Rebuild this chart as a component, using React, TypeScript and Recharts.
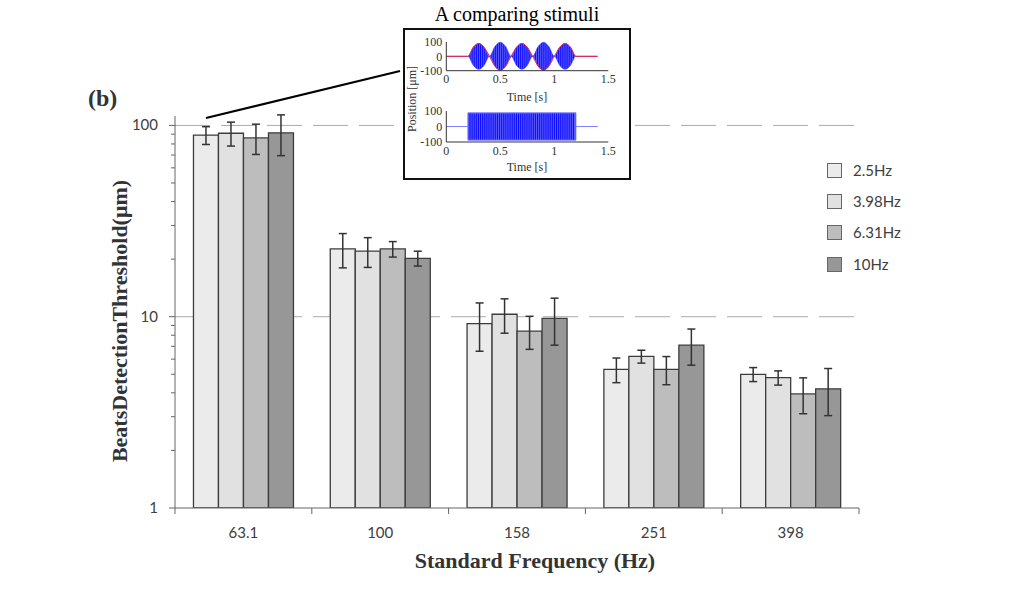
import React from 'react';
import { BarChart, Bar, XAxis, YAxis, CartesianGrid, ErrorBar, ComposedChart, Area, Line } from 'recharts';

// Standard frequencies (Hz) on the x axis
const categories = ['63.1', '100', '158', '251', '398'];
// Beat (modulation) frequencies, one bar series each
const modFreqs = ['2.5Hz', '3.98Hz', '6.31Hz', '10Hz'];

// Mean detection thresholds (µm) and their error bars
const thr2_5 = [89, 22.6, 9.2, 5.3, 5.0];
const err2_5 = [9.5, 4.6, 2.6, 0.78, 0.42];
const thr3_98 = [91, 22, 10.3, 6.2, 4.8];
const err3_98 = [13, 3.9, 2.1, 0.48, 0.41];
const thr6_31 = [86, 22.6, 8.4, 5.3, 3.95];
const err6_31 = [15.5, 2.1, 1.65, 0.89, 0.84];
const thr10 = [91.5, 20.2, 9.8, 7.1, 4.2];
const err10 = [22, 1.8, 2.7, 1.52, 1.16];

const majorTicks = [1, 10, 100];
const logTicks = [1, 2, 3, 4, 5, 6, 7, 8, 9, 10, 20, 30, 40, 50, 60, 70, 80, 90, 100];

// Inset: beat stimulus envelope (µm) and the plain carrier amplitude
const beatTimes = [0, 0.2, 0.25, 0.3, 0.35, 0.4, 0.45, 0.5, 0.55, 0.6, 0.65, 0.7, 0.75, 0.8, 0.85, 0.9, 0.95, 1.0, 1.05, 1.1, 1.15, 1.2, 1.4];
const beatEnvelope = [0, 0, 63, 90, 63, 0, -68, -98, -68, 0, 63, 90, 63, 0, -68, -98, -68, 0, 63, 90, 63, 0, 0];
const toneTimes = [0, 0.2, 0.2, 1.2, 1.2, 1.4];
const toneAmplitude = [0, 0, 88, 88, 0, 0];
const timeTicks = [0, 0.5, 1, 1.5];
const posTicks = [-100, 0, 100];

const barFills = ['#ebebeb', '#e1e1e1', '#bcbdbc', '#979797'];
const series = [thr2_5, thr3_98, thr6_31, thr10];
const errors = [err2_5, err3_98, err6_31, err10];

const data = categories.map((name, i) => {
  const row: Record<string, any> = { name };
  series.forEach((s, k) => {
    row['s' + k] = s[i];
    row['e' + k] = errors[k][i];
  });
  return row;
});

const beatData = beatTimes.map((t, i) => ({
  t,
  env: beatEnvelope[i],
  band: [-Math.abs(beatEnvelope[i]), Math.abs(beatEnvelope[i])],
}));

const toneData = toneTimes.map((t, i) => ({ t, band: [-toneAmplitude[i], toneAmplitude[i]] }));

const W = 1028;
const H = 599;
const PLOT_LEFT = 175;
const PLOT_TOP = 116;
const PLOT_RIGHT = 859;
const PLOT_BOTTOM = 508;
const BAND = (PLOT_RIGHT - PLOT_LEFT) / categories.length;

const sans = "Lato, 'Open Sans', sans-serif";
const serif = "'Liberation Serif', 'DejaVu Serif', serif";

const YTick = (props: any) => {
  const { x, y, payload } = props;
  const major = majorTicks.includes(payload.value);
  return (
    <g>
      <line x1={x - (major ? 6 : 4)} x2={x} y1={y} y2={y} stroke="#666" />
      {major && (
        <text x={x - 17} y={y} dy={5} textAnchor="end" fontFamily={sans} fontSize={15} fill="#404040">
          {payload.value}
        </text>
      )}
    </g>
  );
};

const XTick = (props: any) => {
  const { x, y, payload, index } = props;
  const last = index === categories.length - 1;
  return (
    <g>
      <line x1={x - BAND / 2} x2={x - BAND / 2} y1={y} y2={y + 6} stroke="#666" />
      {last && <line x1={x + BAND / 2} x2={x + BAND / 2} y1={y} y2={y + 6} stroke="#666" />}
      <text x={x} y={y + 30} textAnchor="middle" fontFamily={sans} fontSize={15} fill="#404040">
        {payload.value}
      </text>
    </g>
  );
};

const insetTick = { fontFamily: serif, fontSize: 12, fill: '#333' };

export default function App() {
  return (
    <div style={{ position: 'absolute', left: 0, top: 0, width: W, height: H, background: '#fff', overflow: 'hidden' }}>
      <svg width={0} height={0} style={{ position: 'absolute' }}>
        <defs>
          <pattern id="carrier" patternUnits="userSpaceOnUse" width={1.9} height={10}>
            <rect width={1.9} height={10} fill="#8c8cff" />
            <rect width={1.3} height={10} fill="#0a0aff" />
          </pattern>
        </defs>
      </svg>

      <div style={{ position: 'absolute', left: 0, top: 0 }}>
        <BarChart
          width={W}
          height={H}
          data={data}
          margin={{ top: PLOT_TOP, right: W - PLOT_RIGHT, bottom: H - PLOT_BOTTOM - 30, left: PLOT_LEFT - 60 }}
          barCategoryGap="13.5%"
          barGap={0}
        >
          <CartesianGrid vertical={false} horizontalValues={[10, 100]} stroke="#ababab" strokeDasharray="35 11" />
          <XAxis
            dataKey="name"
            height={30}
            tickSize={0}
            tickMargin={0}
            tickLine={false}
            axisLine={{ stroke: '#666' }}
            tick={<XTick />}
            interval={0}
          />
          <YAxis
            scale="log"
            type="number"
            domain={[1, 112]}
            ticks={logTicks}
            interval={0}
            width={60}
            tickSize={0}
            tickMargin={0}
            tickLine={false}
            axisLine={{ stroke: '#666' }}
            tick={<YTick />}
            allowDataOverflow
          />
          {modFreqs.map((m, k) => (
            <Bar
              key={m}
              dataKey={'s' + k}
              name={m}
              fill={barFills[k]}
              stroke="#3c3c3c"
              strokeWidth={1.3}
              isAnimationActive={false}
            >
              <ErrorBar dataKey={'e' + k} width={4} stroke="#333" strokeWidth={1.5} />
            </Bar>
          ))}
        </BarChart>
      </div>

      {/* legend */}
      <div style={{ position: 'absolute', left: 827, top: 154.5 }}>
        {modFreqs.map((m, k) => (
          <div key={m} style={{ display: 'flex', alignItems: 'center', height: 31.3 }}>
            <div style={{ width: 15, height: 15, boxSizing: 'border-box', border: '1px solid #666', background: barFills[k] }} />
            <span style={{ marginLeft: 11, fontFamily: sans, fontSize: 15, color: '#404040', lineHeight: '15px' }}>{m}</span>
          </div>
        ))}
      </div>

      {/* inset frame */}
      <div
        style={{
          position: 'absolute',
          left: 403,
          top: 28,
          width: 228,
          height: 152,
          boxSizing: 'border-box',
          border: '2.5px solid #111',
          background: '#fff',
        }}
      />

      <div style={{ position: 'absolute', left: 404, top: 29 }}>
        <ComposedChart width={228} height={74} data={beatData} margin={{ top: 13, right: 23.7, bottom: 18.3, left: 6.3 }}>
          <XAxis dataKey="t" type="number" domain={[0, 1.5]} ticks={timeTicks} interval={0} height={14} tickSize={0} tickMargin={4} axisLine={{ stroke: '#333' }} tick={insetTick} />
          <YAxis type="number" domain={[-100, 100]} ticks={posTicks} interval={0} width={36} tickSize={0} tickMargin={4} axisLine={{ stroke: '#333' }} tick={insetTick} />
          <Area dataKey="band" type="monotone" fill="url(#carrier)" fillOpacity={1} stroke="#3a3aff" strokeWidth={0.6} isAnimationActive={false} />
          <Line dataKey="env" type="monotone" stroke="#ee2244" strokeWidth={1} dot={false} isAnimationActive={false} />
        </ComposedChart>
      </div>

      <div style={{ position: 'absolute', left: 404, top: 98 }}>
        <ComposedChart width={228} height={74} data={toneData} margin={{ top: 13, right: 23.7, bottom: 16, left: 6.3 }}>
          <XAxis dataKey="t" type="number" domain={[0, 1.5]} ticks={timeTicks} interval={0} height={14} tickSize={0} tickMargin={4} axisLine={{ stroke: '#333' }} tick={insetTick} />
          <YAxis type="number" domain={[-100, 100]} ticks={posTicks} interval={0} width={36} tickSize={0} tickMargin={4} axisLine={{ stroke: '#333' }} tick={insetTick} />
          <Area dataKey="band" type="linear" fill="url(#carrier)" fillOpacity={1} stroke="#7f7fff" strokeWidth={1} isAnimationActive={false} />
        </ComposedChart>
      </div>

      {/* titles and callout */}
      <svg width={W} height={H} style={{ position: 'absolute', left: 0, top: 0, pointerEvents: 'none' }}>
        <line x1={206} y1={118} x2={400} y2={71} stroke="#000" strokeWidth={2} />
        <text x={517} y={21} textAnchor="middle" fontFamily={serif} fontSize={20} fill="#000">
          A comparing stimuli
        </text>
        <text x={527} y={101} textAnchor="middle" fontFamily={serif} fontSize={12} fill="#333">
          Time [s]
        </text>
        <text x={527} y={171} textAnchor="middle" fontFamily={serif} fontSize={12} fill="#333">
          Time [s]
        </text>
        <text transform="translate(415.5 99) rotate(-90)" textAnchor="middle" fontFamily={serif} fontSize={12} fill="#333">
          Position [μm]
        </text>
        <text x={88} y={106} fontFamily={serif} fontWeight="bold" fontSize={24} fill="#333">
          (b)
        </text>
        <text transform="translate(127 321) rotate(-90)" textAnchor="middle" fontFamily={serif} fontWeight="bold" fontSize={22} fill="#333">
          BeatsDetectionThreshold(μm)
        </text>
        <text x={535} y={568} textAnchor="middle" fontFamily={serif} fontWeight="bold" fontSize={22} fill="#333">
          Standard Frequency (Hz)
        </text>
      </svg>
    </div>
  );
}
